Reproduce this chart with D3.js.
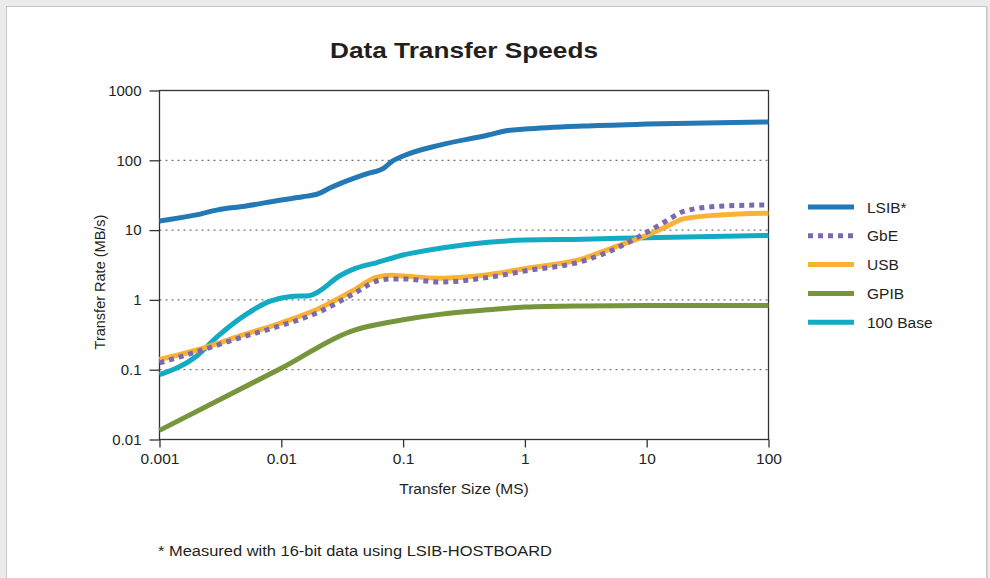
<!DOCTYPE html>
<html><head><meta charset="utf-8">
<script src="https://cdn.jsdelivr.net/npm/d3@7"></script>
<style>
html,body{margin:0;padding:0;background:#ebebeb;}
svg{display:block;font-family:"Liberation Sans",Arial,Helvetica,sans-serif;}
</style></head>
<body>
<svg id="c" width="990" height="578"></svg>
<script>
// ---- data ----
const xTicks = [0.001, 0.01, 0.1, 1, 10, 100];
const xTickLabels = ["0.001", "0.01", "0.1", "1", "10", "100"];
const yTicks = [0.01, 0.1, 1, 10, 100, 1000];
const yTickLabels = ["0.01", "0.1", "1", "10", "100", "1000"];
const seriesNames = ["LSIB*", "GbE", "USB", "GPIB", "100 Base T"];

const lsibX = [0.001, 0.002, 0.003, 0.005, 0.01, 0.015, 0.02, 0.025, 0.03, 0.05, 0.07, 0.08, 0.1, 0.2, 0.5, 0.7, 1, 3, 10, 100];
const lsibY = [13.5, 16.5, 19.5, 22, 27, 30, 33, 40, 46, 64, 78, 95, 115, 165, 230, 265, 280, 310, 330, 355];

const gbeX = [0.001, 0.002, 0.005, 0.01, 0.02, 0.04, 0.06, 0.08, 0.1, 0.2, 0.5, 1, 3, 5, 10, 15, 20, 40, 100];
const gbeY = [0.125, 0.18, 0.3, 0.43, 0.66, 1.25, 1.85, 2.0, 2.0, 1.8, 2.1, 2.6, 3.6, 5.0, 9.3, 14, 18.5, 22, 23];

const usbX = [0.001, 0.002, 0.005, 0.01, 0.02, 0.04, 0.06, 0.08, 0.1, 0.2, 0.5, 1, 3, 5, 10, 15, 20, 40, 100];
const usbY = [0.14, 0.19, 0.32, 0.47, 0.74, 1.4, 2.1, 2.25, 2.2, 2.05, 2.3, 2.8, 3.9, 5.4, 8.4, 11.5, 14.5, 16.5, 17.5];

const gpibX = [0.001, 0.01, 0.04, 0.06, 0.1, 0.2, 0.5, 1, 3, 10, 100];
const gpibY = [0.0135, 0.105, 0.37, 0.44, 0.52, 0.62, 0.72, 0.79, 0.82, 0.83, 0.83];

const baseTX = [0.001, 0.002, 0.003, 0.005, 0.008, 0.012, 0.017, 0.02, 0.03, 0.04, 0.06, 0.1, 0.2, 0.5, 1, 3, 10, 100];
const baseTY = [0.085, 0.155, 0.3, 0.6, 0.95, 1.12, 1.15, 1.3, 2.2, 2.8, 3.4, 4.4, 5.5, 6.7, 7.2, 7.4, 7.8, 8.4];

const colors = {"LSIB*": "#2478b4", "GbE": "#7b6aae", "USB": "#f9b233", "GPIB": "#77963c", "100 Base T": "#12abc3"};

// ---- drawing ----
const svg = d3.select("#c");
svg.append("rect").attr("x", 0).attr("y", 0).attr("width", 990).attr("height", 578).attr("fill", "#ebebeb");
svg.append("rect").attr("x", 6.5).attr("y", 6.5).attr("width", 980).attr("height", 590)
  .attr("fill", "#ffffff").attr("stroke", "#c6c6c6");
svg.append("line").attr("x1", 987.5).attr("x2", 987.5).attr("y1", 7).attr("y2", 578).attr("stroke", "#d4d4d4").attr("stroke-width", 1);

const x = d3.scaleLog().domain([0.001, 100]).range([159.5, 768.5]);
const y = d3.scaleLog().domain([0.01, 1000]).range([439.5, 90.5]);
const textColor = "#231f20";

// title
svg.append("text").attr("x", 464).attr("y", 58).attr("text-anchor", "middle")
  .attr("font-size", 22.5).attr("font-weight", "bold").attr("fill", textColor)
  .attr("textLength", 268).attr("lengthAdjust", "spacingAndGlyphs").text("Data Transfer Speeds");

// gridlines (dotted) at inner decades
svg.append("g").selectAll("line").data(yTicks.filter(v => v > 0.01 && v < 1000)).join("line")
  .attr("x1", x(0.001)).attr("x2", x(100)).attr("y1", d => y(d)).attr("y2", d => y(d))
  .attr("stroke", "#555").attr("stroke-width", 1).attr("stroke-dasharray", "2,4");

// frame
svg.append("rect").attr("x", x(0.001)).attr("y", y(1000)).attr("width", x(100) - x(0.001)).attr("height", y(0.01) - y(1000))
  .attr("fill", "none").attr("stroke", "#333").attr("stroke-width", 1.3);

// axes
const yAxis = d3.axisLeft(y).tickValues(yTicks).tickFormat((d, i) => yTickLabels[i]).tickSize(10).tickPadding(8);
const gy = svg.append("g").attr("transform", `translate(${x(0.001)},0)`).call(yAxis);
const xAxis = d3.axisBottom(x).tickValues(xTicks).tickFormat((d, i) => xTickLabels[i]).tickSize(8).tickPadding(5);
const gx = svg.append("g").attr("transform", `translate(0,${y(0.01)})`).call(xAxis);
[gx, gy].forEach(g => {
  g.select(".domain").remove();
  g.selectAll(".tick line").attr("stroke", "#333").attr("stroke-width", 1.3);
  g.selectAll(".tick text").attr("fill", textColor).attr("font-family", "\"Liberation Sans\",Arial,sans-serif");
});
gy.selectAll(".tick text").attr("font-size", 15);
gx.selectAll(".tick text").attr("font-size", 15.5);

// axis titles
svg.append("text").attr("x", 464).attr("y", 494).attr("text-anchor", "middle")
  .attr("font-size", 15.5).attr("fill", textColor).text("Transfer Size (MS)");
svg.append("text").attr("transform", "translate(105,282) rotate(-90)").attr("text-anchor", "middle")
  .attr("font-size", 14.5).attr("fill", textColor).text("Transfer Rate (MB/s)");

// footnote
svg.append("text").attr("x", 158).attr("y", 556).attr("font-size", 15.5).attr("fill", textColor)
  .attr("textLength", 394).attr("lengthAdjust", "spacingAndGlyphs")
  .text("* Measured with 16-bit data using LSIB-HOSTBOARD");

// series
const line = d3.line().x(d => x(d[0])).y(d => y(d[1])).curve(d3.curveMonotoneX);
const zip = (a, b) => a.map((v, i) => [v, b[i]]);
const series = [
  {name: "GPIB", pts: zip(gpibX, gpibY)},
  {name: "100 Base T", pts: zip(baseTX, baseTY)},
  {name: "USB", pts: zip(usbX, usbY)},
  {name: "GbE", pts: zip(gbeX, gbeY)},
  {name: "LSIB*", pts: zip(lsibX, lsibY)}
];
svg.append("g").selectAll("path").data(series).join("path")
  .attr("d", d => line(d.pts)).attr("fill", "none")
  .attr("stroke", d => colors[d.name]).attr("stroke-width", 5)
  .attr("stroke-dasharray", d => d.name === "GbE" ? "5,5" : null);

// legend
const legFont = 15.5;
const clip = svg.append("defs").append("clipPath").attr("id", "legclip");
const clipRect = clip.append("rect").attr("x", 0).attr("y", 0).attr("width", 990).attr("height", 578);
const leg = svg.append("g");
seriesNames.forEach((n, i) => {
  const yy = 207 + i * 28.8;
  leg.append("line").attr("x1", 808).attr("x2", 854).attr("y1", yy).attr("y2", yy)
    .attr("stroke", colors[n]).attr("stroke-width", 5)
    .attr("stroke-dasharray", n === "GbE" ? "5,5" : null);
  const t = leg.append("text").attr("x", 867).attr("y", yy + 5.5).attr("font-size", legFont).attr("fill", textColor).text(n);
  if (n === "100 Base T") {
    t.attr("clip-path", "url(#legclip)");
  }
});
// the last legend label is cut off in the original right after the start of "T"
const probe = leg.append("text").attr("x", 867).attr("y", -50).attr("font-size", legFont).text("100 Base ");
const w = probe.node().getComputedTextLength();
probe.remove();
clipRect.attr("width", 867 + w + 2);
</script>
</body></html>
